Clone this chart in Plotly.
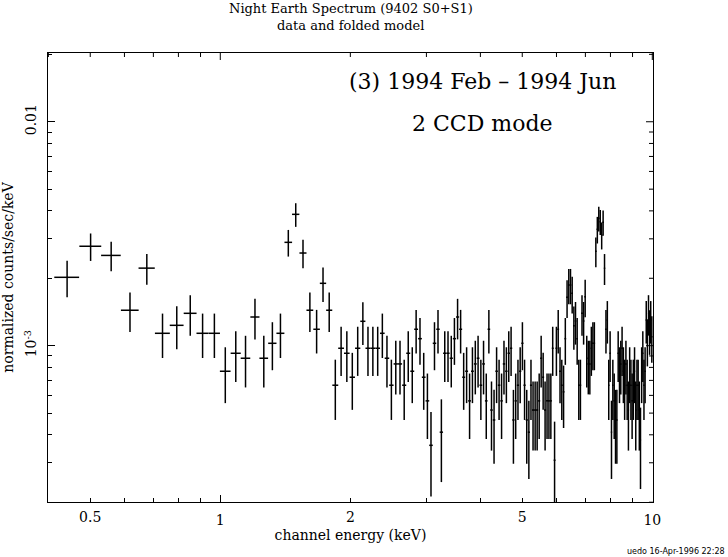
import plotly.graph_objects as go

# channel energies (keV)
energy = [
    0.442, 0.501, 0.559, 0.618, 0.676, 0.735, 0.793, 0.852, 0.910, 0.969,
    1.027, 1.086, 1.144, 1.203, 1.261, 1.320, 1.378, 1.437, 1.495, 1.554,
    1.612, 1.671, 1.729, 1.787, 1.846, 1.904, 1.963, 2.021, 2.080, 2.138,
    2.197, 2.255, 2.314, 2.372, 2.431, 2.489, 2.548, 2.606, 2.665, 2.723,
    2.782, 2.840, 2.899, 2.957, 3.016, 3.074, 3.132, 3.191, 3.249, 3.308,
    3.366, 3.425, 3.483, 3.542, 3.600, 3.659, 3.717, 3.776, 3.834, 3.893,
    3.951, 4.010, 4.068, 4.127, 4.185, 4.244, 4.302, 4.361, 4.419, 4.478,
    4.536, 4.594, 4.653, 4.711, 4.770, 4.828, 4.887, 4.945, 5.004, 5.062,
    5.121, 5.179, 5.238, 5.296, 5.355, 5.413, 5.472, 5.530, 5.589, 5.647,
    5.706, 5.764, 5.823, 5.881, 5.940, 5.998, 6.056, 6.115, 6.173, 6.232,
    6.290, 6.349, 6.407, 6.466, 6.524, 6.583, 6.641, 6.700, 6.758, 6.817,
    6.875, 6.934, 6.992, 7.051, 7.109, 7.168, 7.226, 7.285, 7.343, 7.401,
    7.460, 7.518, 7.577, 7.635, 7.694, 7.752, 7.811, 7.869, 7.928, 7.986,
    8.045, 8.103, 8.162, 8.220, 8.279, 8.337, 8.396, 8.454, 8.512, 8.571,
    8.629, 8.688, 8.746, 8.805, 8.863, 8.922, 8.980, 9.039, 9.097, 9.156,
    9.214, 9.273, 9.331, 9.390, 9.448, 9.507, 9.565, 9.623, 9.682, 9.740,
    9.799, 9.857, 9.916, 9.974,
]
bin_half_width = 0.0292

# normalized counts/sec/keV
rate = [
    2.02e-3, 2.78e-3, 2.53e-3, 1.44e-3, 2.22e-3, 1.136e-3, 1.233e-3, 1.395e-3, 1.136e-3, 1.136e-3,
    0.769e-3, 0.925e-3, 0.879e-3, 1.343e-3, 0.879e-3, 1.025e-3, 1.136e-3, 2.894e-3, 3.86e-3, 2.593e-3,
    1.44e-3, 1.184e-3, 1.899e-3, 1.44e-3, 0.666e-3, 0.974e-3, 0.925e-3, 0.723e-3, 0.974e-3, 1.285e-3,
    0.974e-3, 0.974e-3, 0.974e-3, 1.136e-3, 0.879e-3, 0.666e-3, 0.829e-3, 0.829e-3, 0.666e-3, 0.925e-3,
    0.769e-3, 1.184e-3, 1.075e-3, 0.723e-3, 0.567e-3, 0.359e-3, 1.025e-3, 1.184e-3, 0.411e-3, 0.925e-3,
    0.925e-3, 0.879e-3, 1.075e-3, 1.343e-3, 1.184e-3, 0.723e-3, 0.769e-3, 0.567e-3, 0.769e-3, 0.829e-3,
    0.879e-3, 0.666e-3, 0.829e-3, 0.567e-3, 1.184e-3, 0.516e-3, 0.466e-3, 0.769e-3, 0.666e-3, 0.567e-3,
    0.829e-3, 0.769e-3, 0.925e-3, 0.974e-3, 0.466e-3, 0.567e-3, 0.666e-3, 0.769e-3, 1.025e-3, 0.666e-3,
    0.466e-3, 0.411e-3, 0.666e-3, 0.516e-3, 0.516e-3, 0.516e-3, 0.567e-3, 0.879e-3, 0.723e-3, 0.516e-3,
    0.567e-3, 0.567e-3, 0.567e-3, 0.974e-3, 0.308e-3, 0.974e-3, 1.184e-3, 0.769e-3, 0.666e-3, 0.622e-3,
    1.075e-3, 1.645e-3, 1.866e-3, 1.866e-3, 1.714e-3, 1.228e-3, 1.289e-3, 1.075e-3, 0.666e-3, 0.666e-3,
    1.395e-3, 1.289e-3, 1.655e-3, 0.879e-3, 0.829e-3, 0.829e-3, 0.974e-3, 1.025e-3, 1.025e-3, 2.64e-3,
    3.31e-3, 3.705e-3, 3.578e-3, 3.12e-3, 3.555e-3, 2.216e-3, 1.184e-3, 1.302e-3, 0.666e-3, 0.925e-3,
    0.411e-3, 0.666e-3, 0.567e-3, 0.466e-3, 0.466e-3, 0.925e-3, 0.769e-3, 0.829e-3, 0.974e-3, 0.769e-3,
    0.666e-3, 0.829e-3, 0.666e-3, 0.516e-3, 0.769e-3, 0.666e-3, 0.567e-3, 0.666e-3, 0.769e-3, 0.516e-3,
    0.666e-3, 0.666e-3, 0.516e-3, 0.379e-3, 0.769e-3, 0.925e-3, 0.666e-3, 0.769e-3, 1.302e-3, 1.06e-3,
    1.395e-3, 1.175e-3, 1.302e-3, 1.097e-3,
]

rate_err = [
    0.375e-3, 0.39e-3, 0.38e-3, 0.29e-3, 0.35e-3, 0.255e-3, 0.268e-3, 0.286e-3, 0.255e-3, 0.255e-3,
    0.215e-3, 0.236e-3, 0.228e-3, 0.276e-3, 0.228e-3, 0.248e-3, 0.255e-3, 0.394e-3, 0.467e-3, 0.378e-3,
    0.29e-3, 0.261e-3, 0.333e-3, 0.29e-3, 0.2e-3, 0.241e-3, 0.236e-3, 0.206e-3, 0.241e-3, 0.277e-3,
    0.241e-3, 0.241e-3, 0.241e-3, 0.255e-3, 0.228e-3, 0.2e-3, 0.223e-3, 0.223e-3, 0.2e-3, 0.236e-3,
    0.215e-3, 0.261e-3, 0.254e-3, 0.206e-3, 0.184e-3, 0.147e-3, 0.248e-3, 0.261e-3, 0.165e-3, 0.236e-3,
    0.236e-3, 0.228e-3, 0.254e-3, 0.276e-3, 0.261e-3, 0.206e-3, 0.215e-3, 0.184e-3, 0.215e-3, 0.223e-3,
    0.228e-3, 0.2e-3, 0.223e-3, 0.184e-3, 0.261e-3, 0.176e-3, 0.169e-3, 0.215e-3, 0.2e-3, 0.184e-3,
    0.223e-3, 0.215e-3, 0.236e-3, 0.241e-3, 0.169e-3, 0.184e-3, 0.2e-3, 0.215e-3, 0.248e-3, 0.2e-3,
    0.169e-3, 0.157e-3, 0.2e-3, 0.176e-3, 0.176e-3, 0.176e-3, 0.184e-3, 0.228e-3, 0.206e-3, 0.176e-3,
    0.184e-3, 0.184e-3, 0.184e-3, 0.241e-3, 0.15e-3, 0.241e-3, 0.261e-3, 0.215e-3, 0.2e-3, 0.193e-3,
    0.254e-3, 0.315e-3, 0.335e-3, 0.335e-3, 0.32e-3, 0.27e-3, 0.278e-3, 0.254e-3, 0.2e-3, 0.2e-3,
    0.286e-3, 0.278e-3, 0.315e-3, 0.228e-3, 0.223e-3, 0.223e-3, 0.241e-3, 0.248e-3, 0.248e-3, 0.40e-3,
    0.45e-3, 0.47e-3, 0.46e-3, 0.43e-3, 0.46e-3, 0.35e-3, 0.261e-3, 0.28e-3, 0.2e-3, 0.236e-3,
    0.157e-3, 0.2e-3, 0.184e-3, 0.169e-3, 0.169e-3, 0.236e-3, 0.215e-3, 0.223e-3, 0.241e-3, 0.215e-3,
    0.2e-3, 0.223e-3, 0.2e-3, 0.176e-3, 0.215e-3, 0.2e-3, 0.184e-3, 0.2e-3, 0.215e-3, 0.176e-3,
    0.2e-3, 0.2e-3, 0.176e-3, 0.15e-3, 0.215e-3, 0.236e-3, 0.2e-3, 0.215e-3, 0.28e-3, 0.252e-3,
    0.286e-3, 0.265e-3, 0.28e-3, 0.257e-3,
]

x_label_vals = [0.5, 2, 5]
x_label_text = ["0.5", "2", "5"]
x_major_vals = [1, 10]
x_major_text = ["1", "10"]
x_minor_vals = [0.4, 0.5, 0.6, 0.7, 0.8, 0.9, 2, 3, 4, 5, 6, 7, 8, 9]
y_major_vals = [1e-3, 1e-2]
y_major_text = ["10<sup>-3</sup>", "0.01"]
y_minor_vals = [2e-4, 3e-4, 4e-4, 5e-4, 6e-4, 7e-4, 8e-4, 9e-4,
                2e-3, 3e-3, 4e-3, 5e-3, 6e-3, 7e-3, 8e-3, 9e-3, 2e-2]

title_lines = ["Night Earth Spectrum (9402 S0+S1)", "data and folded model"]

FONT = "DejaVu Serif"
black = "black"
W, H = 728, 557
L, R, T, B = 48, 653, 53, 502
MAJOR_LEN, MINOR_LEN = 7, 4


def px(xp):
    return (xp - L) / (R - L)


def py(yp):
    return (B - yp) / (B - T)


fig = go.Figure()
fig.add_trace(go.Scatter(
    x=energy, y=rate, mode="markers",
    marker=dict(size=1, color=black),
    error_x=dict(type="constant", value=bin_half_width, width=0, thickness=1.5, color=black),
    error_y=dict(type="data", array=rate_err, symmetric=True, width=0, thickness=1.5, color=black),
    showlegend=False, hoverinfo="skip",
))
# anchor trace for the label overlay axis (no visible marks)
fig.add_trace(go.Scatter(x=[1], y=[1e-3], xaxis="x2", yaxis="y", mode="markers",
                         marker=dict(size=0, opacity=0), showlegend=False, hoverinfo="skip"))

xr = [-0.3988, 1.0016]
yr = [-3.698, -1.693]
tick_common = dict(ticks="inside", ticklen=MAJOR_LEN, tickwidth=1, tickcolor=black)
minor_x = dict(ticks="inside", ticklen=MINOR_LEN, tickwidth=1, tickcolor=black,
               tickmode="array", tickvals=x_minor_vals, showgrid=False)
minor_y = dict(ticks="inside", ticklen=MINOR_LEN, tickwidth=1, tickcolor=black,
               tickmode="array", tickvals=y_minor_vals, showgrid=False)

# mirrored ticks along the top and right frame edges
shapes = []
for vals, ln in ((x_major_vals, MAJOR_LEN), (x_minor_vals, MINOR_LEN)):
    for v in vals:
        shapes.append(dict(type="line", xref="x", yref="paper", x0=v, x1=v,
                           y0=1, y1=1 - ln / (B - T), line=dict(color=black, width=1)))
for vals, ln in ((y_major_vals, MAJOR_LEN), (y_minor_vals, MINOR_LEN)):
    for v in vals:
        shapes.append(dict(type="line", xref="paper", yref="y", y0=v, y1=v,
                           x0=1, x1=1 - ln / (R - L), line=dict(color=black, width=1)))

fig.update_layout(
    width=W, height=H,
    margin=dict(l=L, r=W - R, t=T, b=H - B, autoexpand=False),
    paper_bgcolor="white", plot_bgcolor="white",
    font=dict(family=FONT, color=black, size=14),
    shapes=shapes,
    xaxis=dict(
        type="log", range=xr, showgrid=False, zeroline=False, automargin=False,
        showline=True, linecolor=black, linewidth=1, mirror=True,
        tickmode="array", tickvals=x_major_vals, ticktext=x_major_text,
        ticklabelstandoff=5, minor=minor_x, **tick_common,
        title=dict(text="channel energy (keV)", standoff=3, font=dict(size=14)),
        tickfont=dict(size=14),
    ),
    xaxis2=dict(
        type="log", range=xr, overlaying="x", side="bottom", anchor="y", automargin=False,
        showgrid=False, zeroline=False, showline=False,
        ticks="", tickmode="array", tickvals=x_label_vals, ticktext=x_label_text,
        ticklabelstandoff=5, tickfont=dict(size=14),
    ),
    yaxis=dict(
        type="log", range=yr, showgrid=False, zeroline=False, automargin=False,
        showline=True, linecolor=black, linewidth=1, mirror=True,
        tickmode="array", tickvals=y_major_vals, ticktext=y_major_text,
        tickangle=-90, ticklabelstandoff=5, minor=minor_y, **tick_common,
        title=dict(text="normalized counts/sec/keV", standoff=6, font=dict(size=14)),
        tickfont=dict(size=14),
    ),
    annotations=[
        dict(text=title_lines[0], x=0.5, y=py(9), xref="paper", yref="paper",
             xanchor="center", yanchor="middle", showarrow=False,
             font=dict(family=FONT, size=13, color=black)),
        dict(text=title_lines[1], x=0.5, y=py(25), xref="paper", yref="paper",
             xanchor="center", yanchor="middle", showarrow=False,
             font=dict(family=FONT, size=13, color=black)),
        dict(text="(3) 1994 Feb \u2013 1994 Jun", x=px(482), y=py(82), xref="paper", yref="paper",
             xanchor="center", yanchor="middle", showarrow=False,
             font=dict(family=FONT, size=22, color=black)),
        dict(text="2 CCD mode", x=px(482), y=py(123), xref="paper", yref="paper",
             xanchor="center", yanchor="middle", showarrow=False,
             font=dict(family=FONT, size=22, color=black)),
        dict(text="uedo 16-Apr-1996 22:28", x=px(727), y=py(551), xref="paper", yref="paper",
             xanchor="right", yanchor="middle", showarrow=False,
             font=dict(family="DejaVu Sans", size=8, color=black)),
    ],
)

fig.write_html("out.html")
